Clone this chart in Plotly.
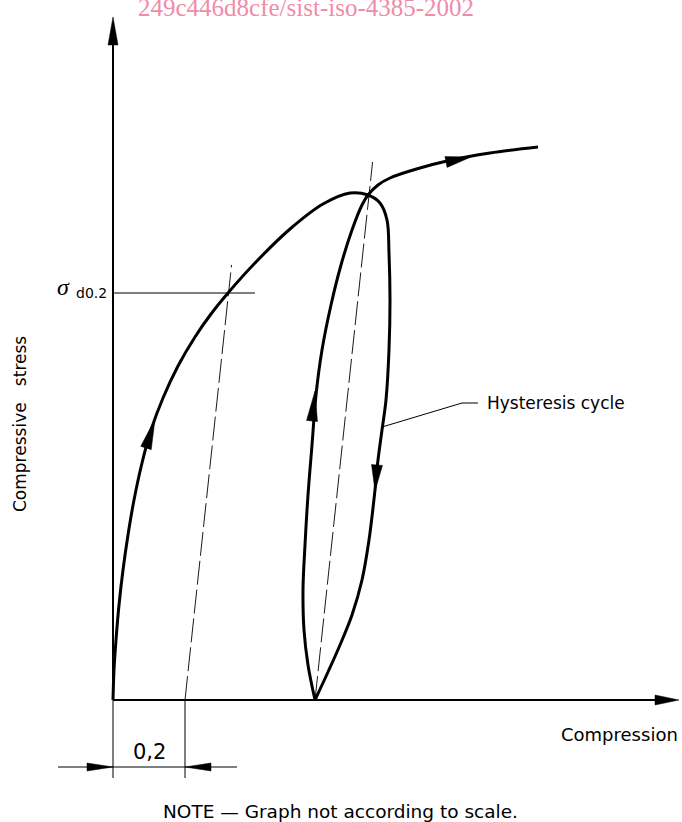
import plotly.graph_objects as go

# ---- data (schematic units: x = compression, y = compressive stress) ----
load_x = [0, 1, 3, 6, 10, 15, 21, 29, 38, 50, 65, 82, 98, 115, 142, 177, 210, 237, 255,
          267, 274, 276, 277, 276, 273, 269, 265, 262, 256, 249, 239, 227, 215, 202]
load_y = [0, 30, 60, 95, 130, 165, 200, 237, 270, 302, 334, 363, 386, 407, 437, 471, 496, 507, 505,
          497, 480, 447, 400, 350, 300, 270, 240, 210, 160, 120, 85, 55, 28, 0]

reload_x = [202, 195, 191, 190, 192, 195, 199, 203, 209, 218, 228, 239, 249, 255, 265, 277, 307, 334, 377, 425]
reload_y = [0, 35, 70, 110, 155, 205, 255, 305, 350, 395, 435, 470, 495, 505, 515, 522, 532, 539, 547, 553]

offset = 72            # the 0,2 offset on the compression axis
sigma_d02 = 407        # proof stress level
elastic_slope = 0.107  # dx/dy of the elastic (unloading) line
elastic1_top = 435
elastic2_start = 202
elastic2_top = 538

x_axis_end = 566
y_axis_end = 683

# arrowheads: (tip_x, tip_y, base_x, base_y, half width)
curve_arrows = [
    (42, 281, 33, 252, 5.5),
    (358, 543, 333, 538, 5.5),
    (202, 309, 199, 279, 5.5),
    (262, 209, 264, 235, 5.5),
]

dim_y = -67
label_offset = "0,2"
label_sigma = "σ"
label_sigma_sub = "d0.2"
label_y = "Compressive   stress"
label_x = "Compression"
label_loop = "Hysteresis cycle"
note = "NOTE — Graph not according to scale."
watermark = "249c446d8cfe/sist-iso-4385-2002"

SANS = "DejaVu Sans, Verdana, sans-serif"
SERIF = "Liberation Serif, Times New Roman, serif"

fig = go.Figure()


def line(xs, ys, width=1.0, dash=None, shape="linear"):
    fig.add_trace(go.Scatter(x=xs, y=ys, mode="lines",
                             line=dict(color="black", width=width, dash=dash, shape=shape),
                             hoverinfo="skip"))


def head(tx, ty, bx, by, w):
    dx, dy = tx - bx, ty - by
    n = (dx * dx + dy * dy) ** 0.5
    px, py = -dy / n * w, dx / n * w
    xs = [tx, bx + px, bx - px, tx]
    ys = [ty, by + py, by - py, ty]
    fig.add_trace(go.Scatter(x=xs, y=ys, mode="lines", fill="toself", fillcolor="black",
                             line=dict(color="black", width=0.5), hoverinfo="skip"))


# axes
line([0, 0], [0, y_axis_end - 25], width=2)
line([0, x_axis_end - 22], [0, 0], width=2)
head(0, y_axis_end, 0, y_axis_end - 28, 5)
head(x_axis_end, 0, x_axis_end - 24, 0, 5)

# elastic (dashed) lines
line([offset, offset + elastic_slope * elastic1_top], [0, elastic1_top], width=0.9, dash="24px,5px")
line([elastic2_start, elastic2_start + elastic_slope * elastic2_top], [0, elastic2_top],
     width=0.9, dash="24px,5px")

# sigma level line
line([0, 142], [sigma_d02, sigma_d02], width=1)

# curves
line(load_x, load_y, width=3, shape="spline")
line(reload_x, reload_y, width=3, shape="spline")
for a in curve_arrows:
    head(*a)

# dimension
line([0, 0], [0, -78], width=1)
line([offset, offset], [0, -78], width=1)
line([-55, offset + 52], [dim_y, dim_y], width=1)
head(0, dim_y, -26, dim_y, 4)
head(offset, dim_y, offset + 26, dim_y, 4)

# leader for hysteresis label
line([269, 349, 365], [273, 297, 297], width=1)

ann = [
    dict(x=-50, y=413, text="<i>" + label_sigma + "</i>", font=dict(family=SERIF, size=24, color="black"),
         xanchor="center", yanchor="middle"),
    dict(x=-39, y=407, text=label_sigma_sub, font=dict(family=SANS, size=14, color="black"),
         xanchor="left", yanchor="middle"),
    dict(x=-93, y=276, text=label_y, textangle=-90, font=dict(family=SANS, size=17, color="black"),
         xanchor="center", yanchor="middle"),
    dict(x=506, y=-34, text=label_x, font=dict(family=SANS, size=18, color="black"),
         xanchor="center", yanchor="middle"),
    dict(x=36, y=-52, text=label_offset, font=dict(family=SANS, size=21, color="black"),
         xanchor="center", yanchor="middle"),
    dict(x=372, y=297, text=label_loop, font=dict(family=SANS, size=17, color="black"),
         xanchor="left", yanchor="middle"),
    dict(x=227, y=-111, text=note, font=dict(family=SANS, size=18.5, color="black"),
         xanchor="center", yanchor="middle"),
    dict(x=193, y=677, text=watermark, font=dict(family=SERIF, size=25, color="#F08CA8"),
         xanchor="center", yanchor="bottom"),
]
for a in ann:
    a.update(showarrow=False, xref="x", yref="y")
fig.update_layout(annotations=ann)

fig.update_layout(
    width=682, height=822,
    margin=dict(l=0, r=0, t=0, b=0),
    paper_bgcolor="white", plot_bgcolor="white",
    showlegend=False,
    xaxis=dict(range=[-113, 569], visible=False, fixedrange=True),
    yaxis=dict(range=[-122, 700], visible=False, fixedrange=True),
)

fig.write_html("out.html", config={"displayModeBar": False},
               post_script="document.body.style.margin='0';document.body.style.overflow='hidden';")
